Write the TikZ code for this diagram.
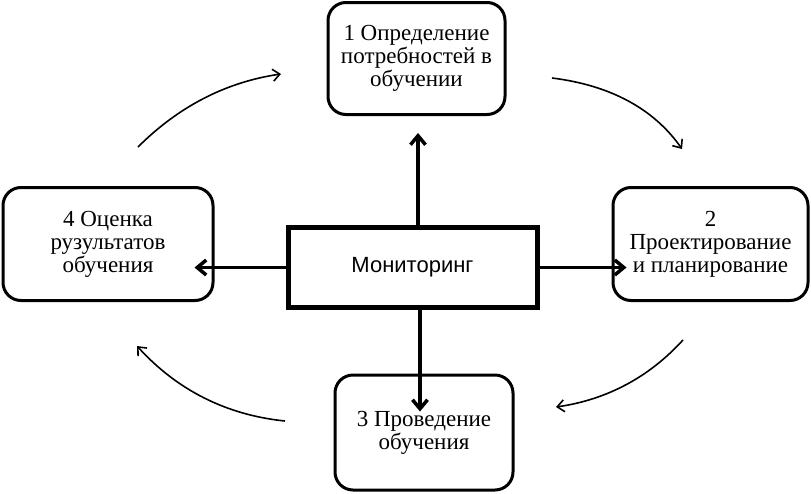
\documentclass[tikz,border=0pt]{standalone}
\usepackage{fontspec}
\setmainfont{Liberation Serif}
\newfontfamily\monsans{Liberation Sans}
\usetikzlibrary{arrows.meta}
\tikzset{
  stagebox/.style={draw, line width=3pt, rounded corners=18pt, align=center,
    font=\fontsize{23pt}{23pt}\selectfont, inner sep=0pt},
  monbox/.style={draw, line width=5pt, font=\monsans\fontsize{22pt}{24pt}\selectfont, inner sep=0pt},
  mainarrow/.style={line width=3.5pt, -{Straight Barb[length=9pt,width=15pt]}},
  cyclearrow/.style={line width=1.6pt, -{Straight Barb[length=7pt,width=12pt]}}
}
\begin{document}
\begin{tikzpicture}[x=1pt,y=-1pt]
\useasboundingbox (0,0) rectangle (811,493);
\node[stagebox, minimum width=177pt, minimum height=112pt] (top) at (416.5,58.5)
  {1 Определение\\потребностей в\\обучении};
\node[stagebox, minimum width=210pt, minimum height=113pt] (left) at (108,244)
  {4 Оценка\\рузультатов\\обучения};
\node[stagebox, minimum width=195pt, minimum height=113pt] (right) at (710.5,244)
  {2\\Проектирование\\и планирование};
\node[stagebox, minimum width=178pt, minimum height=115pt] (bot) at (424,432.5)
  {3 Проведение\\обучения};
\node[monbox, minimum width=249pt, minimum height=80pt] (mon) at (412.5,267.5)
  {Мониторинг};

\draw[mainarrow] ([xshift=5.5pt]mon.north) -- ([xshift=5.5pt,yshift=-17pt]mon.north |- top.south);
\draw[mainarrow] (mon.west) -- ([xshift=-20pt]mon.west -| left.east);
\draw[mainarrow] (mon.east) -- ([xshift=15pt]mon.east -| right.west);
\draw[mainarrow] ([xshift=7.5pt]mon.south) -- ([xshift=7.5pt,yshift=-38pt]mon.south |- bot.north);

\coordinate (tlA) at (138,147); \coordinate (tlB) at (281,74);
\coordinate (trA) at (552,78);  \coordinate (trB) at (682,149);
\coordinate (brA) at (683,340); \coordinate (brB) at (556,407);
\coordinate (blA) at (285,421); \coordinate (blB) at (137,346);
\draw[cyclearrow] (tlA) .. controls (178.7,106.3) and (226.3,82) .. (tlB);
\draw[cyclearrow] (trA) .. controls (610.7,85.3) and (654,109) .. (trB);
\draw[cyclearrow] (brA) .. controls (649,377.3) and (606.7,399.7) .. (brB);
\draw[cyclearrow] (blA) .. controls (226.3,415) and (177,390) .. (blB);
\end{tikzpicture}
\end{document}
